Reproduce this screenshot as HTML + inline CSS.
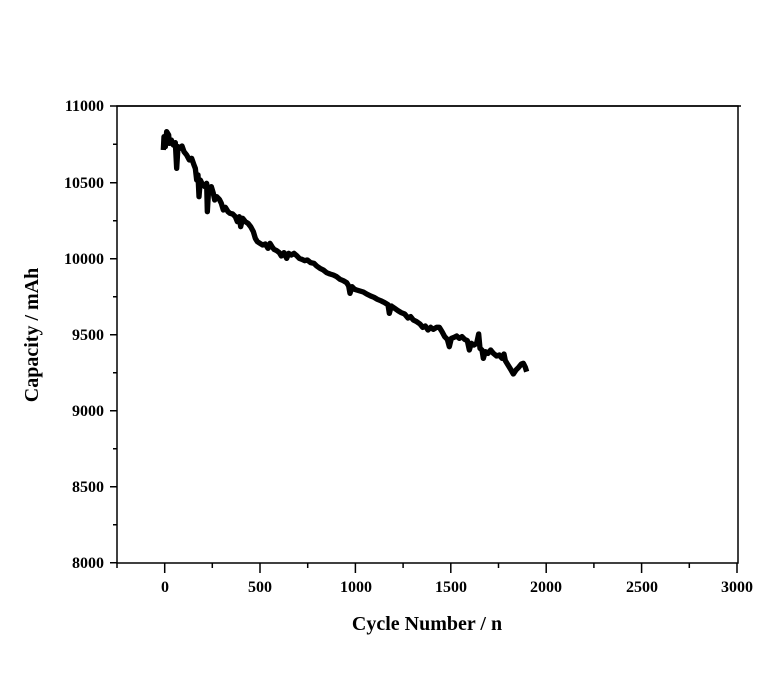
<!DOCTYPE html>
<html><head><style>body{margin:0;background:#fff}svg{display:block}</style></head><body>
<svg width="760" height="679" xmlns="http://www.w3.org/2000/svg" font-family="Liberation Serif, serif" font-weight="bold">
<rect width="760" height="679" fill="#fff"/>
<g stroke="#000" stroke-width="1.5" fill="none">
<rect x="117" y="106" width="621" height="457"/>
<path d="M117,106H741"/>
<path d="M110,106H117M110,182.7H117M110,258.7H117M110,334.7H117M110,410.7H117M110,486.7H117M110,562.7H117"/>
<path d="M113,144.3H117M113,220.7H117M113,296.7H117M113,372.7H117M113,448.7H117M113,524.7H117"/>
<path d="M164.7,563V573M260,563V573M355.4,563V573M450.8,563V573M546.2,563V573M641.6,563V573M737,563V573"/>
<path d="M117,563V568M212.3,563V568M307.7,563V568M403.1,563V568M498.5,563V568M593.9,563V568M689.3,563V568"/>
</g>
<g font-size="16" text-anchor="end">
<text x="104" y="111">11000</text>
<text x="104" y="188">10500</text>
<text x="104" y="264">10000</text>
<text x="104" y="340">9500</text>
<text x="104" y="416">9000</text>
<text x="104" y="492">8500</text>
<text x="104" y="568">8000</text>
</g>
<g font-size="16" text-anchor="middle">
<text x="165" y="592">0</text>
<text x="260" y="592">500</text>
<text x="356" y="592">1000</text>
<text x="451" y="592">1500</text>
<text x="546" y="592">2000</text>
<text x="642" y="592">2500</text>
<text x="737" y="592">3000</text>
</g>
<text x="427" y="630" font-size="20" text-anchor="middle">Cycle Number / n</text>
<text transform="translate(38,335) rotate(-90)" font-size="20" text-anchor="middle">Capacity / mAh</text>
<g transform="translate(90,90) scale(0.33333)">
<path fill="none" stroke="#000" stroke-width="16" stroke-linejoin="round" d="M220,180 L222,140 L226,170 L230,125 L236,135 L238,160 L244,150 L250,165 L256,158 L260,235 L264,170 L270,175 L276,168 L282,185 L290,195 L298,210 L305,205 L312,225 L316,235 L320,270 L324,255 L327,320 L331,270 L338,285 L345,290 L350,280 L352,365 L356,295 L364,290 L370,310 L374,330 L380,320 L388,328 L394,340 L400,360 L406,352 L414,365 L420,370 L428,372 L436,380 L442,395 L448,380 L452,410 L458,385 L466,395 L474,400 L482,410 L490,425 L496,445 L502,455 L510,460 L518,465 L526,462 L534,475 L540,460 L546,470 L552,478 L560,482 L568,488 L574,498 L582,488 L590,505 L596,490 L604,495 L612,490 L620,497 L628,505 L636,508 L644,512 L652,510 L662,518 L672,520 L680,528 L690,535 L700,540 L710,548 L720,552 L730,555 L740,560 L750,568 L760,572 L770,578 L776,588 L780,610 L786,590 L794,598 L800,600 L810,603 L820,606 L830,612 L842,618 L852,622 L862,628 L872,632 L884,638 L894,644 L898,670 L904,648 L914,655 L924,662 L934,668 L944,672 L954,684 L962,680 L970,690 L980,695 L990,702 L998,712 L1006,708 L1014,720 L1022,712 L1030,718 L1040,712 L1048,712 L1056,725 L1064,740 L1072,748 L1078,770 L1084,745 L1092,742 L1100,738 L1108,745 L1116,740 L1124,748 L1132,752 L1138,780 L1144,760 L1152,765 L1160,760 L1166,732 L1170,775 L1176,780 L1180,805 L1186,785 L1194,790 L1202,780 L1210,790 L1220,798 L1228,795 L1236,805 L1242,792 L1246,812 L1254,825 L1262,838 L1270,852 L1278,840 L1286,832 L1294,822 L1300,820 L1306,832 L1310,845"/>
</g>
</svg>
</body></html>
